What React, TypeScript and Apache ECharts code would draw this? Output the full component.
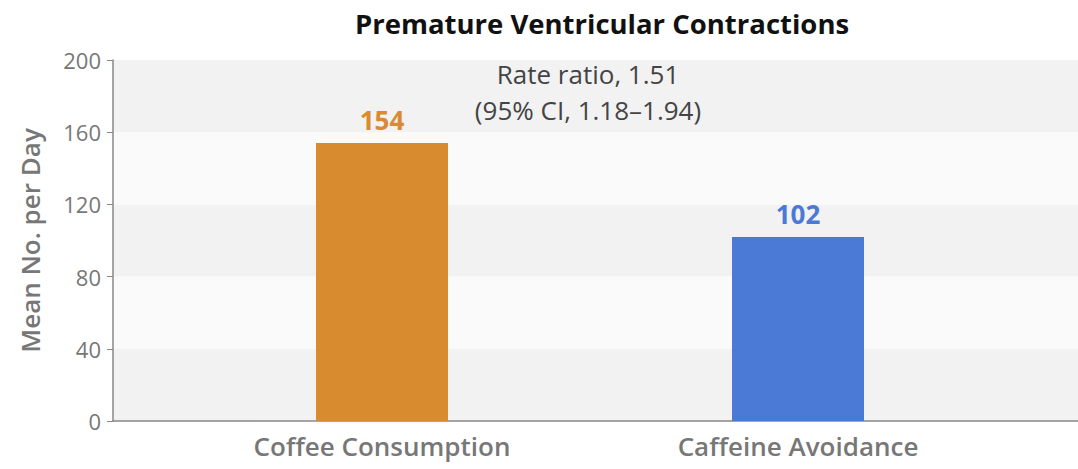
import React, { useEffect, useRef } from "react";
import * as echarts from "echarts";

const categories = ["Coffee Consumption", "Caffeine Avoidance"];
const values = [154, 102];
const barColors = ["#d98b30", "#4a79d6"];
const yTicks = [0, 40, 80, 120, 160, 200];
const titleText = "Premature Ventricular Contractions";
const yAxisName = "Mean No. per Day";
const annotation = ["Rate ratio, 1.51", "(95% CI, 1.18–1.94)"];

const FONT = "'Open Sans', 'Noto Sans', sans-serif";

export default function App() {
  const ref = useRef<HTMLDivElement>(null);
  useEffect(() => {
    document.body.style.margin = "0";
    if (!ref.current) return;
    const chart = echarts.init(ref.current, undefined, { renderer: "svg" });
    chart.setOption({
      animation: false,
      backgroundColor: "#ffffff",
      textStyle: { fontFamily: FONT },
      title: {
        text: titleText,
        left: 597,
        textAlign: "center",
        top: 4,
        textStyle: { fontFamily: FONT, fontSize: 27.5, fontWeight: 700, color: "#111" },
      },
      grid: [
        { left: 113, right: 0, top: 60, bottom: 48 },
        { left: 174, right: 72, top: 60, bottom: 48 },
      ],
      xAxis: [
        {
          gridIndex: 0,
          type: "category",
          data: ["a"],
          axisLine: { show: true, lineStyle: { color: "#888", width: 1.5 } },
          axisTick: { show: false },
          axisLabel: { show: false },
          splitLine: { show: false },
        },
        {
          gridIndex: 1,
          type: "category",
          data: categories,
          axisLine: { show: false },
          axisTick: { show: false },
          axisLabel: { color: "#777", fontSize: 26, fontFamily: FONT, fontWeight: 600, margin: 12 },
        },
      ],
      yAxis: [
        {
          gridIndex: 0,
          type: "value",
          min: yTicks[0],
          max: yTicks[yTicks.length - 1],
          interval: 40,
          name: yAxisName,
          nameLocation: "middle",
          nameGap: 70,
          nameRotate: 90,
          nameTextStyle: { color: "#777", fontSize: 26, fontWeight: 600, fontFamily: FONT },
          axisLine: { show: true, lineStyle: { color: "#888", width: 1.5 } },
          axisTick: { show: true, length: 6, lineStyle: { color: "#888" } },
          axisLabel: { color: "#777", fontSize: 22, fontFamily: FONT, margin: 12 },
          splitLine: { show: false },
          splitArea: { show: true, areaStyle: { color: ["#f2f2f2", "#fafafa"] } },
        },
        {
          gridIndex: 1,
          type: "value",
          min: 0,
          max: 200,
          show: false,
          splitLine: { show: false },
        },
      ],
      series: [
        {
          type: "bar",
          xAxisIndex: 1,
          yAxisIndex: 1,
          barWidth: 132,
          data: values.map((v, i) => ({
            value: v,
            itemStyle: { color: barColors[i] },
            label: { color: barColors[i] },
          })),
          label: {
            show: true,
            position: "top",
            distance: 10,
            fontSize: 26,
            fontWeight: 700,
            fontFamily: FONT,
          },
        },
      ],
      graphic: [
        {
          type: "text",
          x: 588,
          y: 56,
          z: 100,
          style: {
            text: annotation.join("\n"),
            fontSize: 26,
            lineHeight: 36,
            fontFamily: FONT,
            fill: "#444",
            align: "center",
            textAlign: "center",
          },
        },
      ],
    });
    return () => chart.dispose();
  }, []);
  return <div ref={ref} style={{ width: 1078, height: 469 }} />;
}
